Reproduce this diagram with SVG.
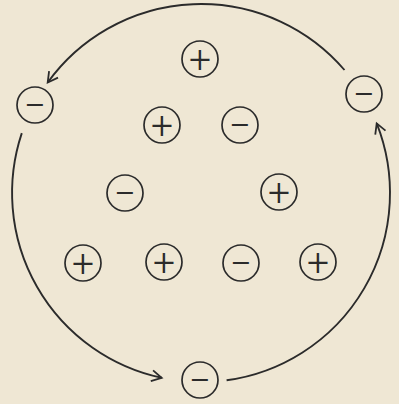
<svg xmlns="http://www.w3.org/2000/svg" width="399" height="404" viewBox="0 0 399 404">
<defs>
<style>
.node circle{fill:none;stroke:#2b2b2b;stroke-width:1.7}
.node text{font-family:Roboto,"Liberation Sans",sans-serif;font-weight:300;font-size:39px;fill:#2b2b2b;text-anchor:middle}
.arc{fill:none;stroke:#2b2b2b;stroke-width:1.9;marker-end:url(#ah)}
</style>
<marker id="ah" markerWidth="14" markerHeight="14" refX="0" refY="0" viewBox="-12 -7 14 14" orient="auto" markerUnits="userSpaceOnUse">
<path d="M-10,-5.5 L0,0 L-10,5.5" fill="none" stroke="#2b2b2b" stroke-width="1.8"/>
</marker>
</defs>
<rect width="399" height="404" fill="#efe7d4"/>
<g id="connectors">
<path class="arc" d="M344.5,70 A189,189 0 0 0 47.7,82.5"/>
<path class="arc" d="M21.8,133.1 A189,189 0 0 0 161.7,377.8"/>
<path class="arc" d="M226.6,380.3 A189,189 0 0 0 376.7,123.4"/>
</g>
<g id="n1" class="node"><circle cx="200" cy="59" r="18"/><text x="200" y="73">+</text></g>
<g id="n2" class="node"><circle cx="35" cy="105" r="18"/><text x="35" y="119">−</text></g>
<g id="n3" class="node"><circle cx="162" cy="125" r="18"/><text x="162" y="139">+</text></g>
<g id="n4" class="node"><circle cx="240" cy="125" r="18"/><text x="240" y="139">−</text></g>
<g id="n5" class="node"><circle cx="364" cy="94" r="18"/><text x="364" y="108">−</text></g>
<g id="n6" class="node"><circle cx="125" cy="193" r="18"/><text x="125" y="207">−</text></g>
<g id="n7" class="node"><circle cx="279" cy="192" r="18"/><text x="279" y="206">+</text></g>
<g id="n8" class="node"><circle cx="83" cy="263" r="18"/><text x="83" y="277">+</text></g>
<g id="n9" class="node"><circle cx="164" cy="262" r="18"/><text x="164" y="276">+</text></g>
<g id="n10" class="node"><circle cx="241" cy="263" r="18"/><text x="241" y="277">−</text></g>
<g id="n11" class="node"><circle cx="318" cy="262" r="18"/><text x="318" y="276">+</text></g>
<g id="n12" class="node"><circle cx="200" cy="380" r="18"/><text x="200" y="394">−</text></g>
</svg>
